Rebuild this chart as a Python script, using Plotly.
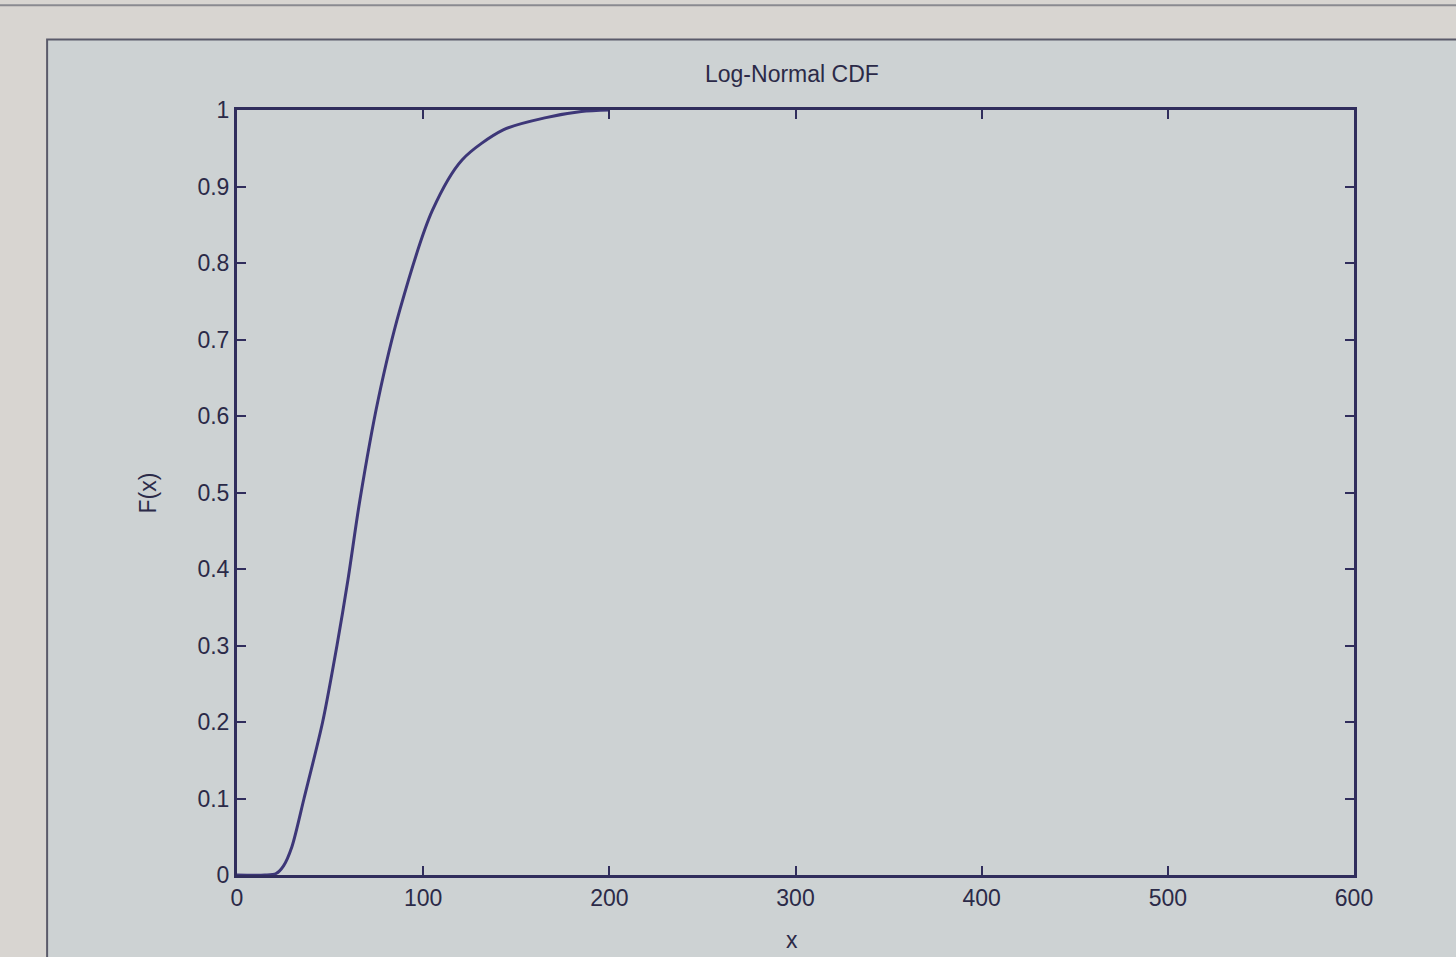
import plotly.graph_objects as go

x_vals = [0, 15, 21, 25, 29.5, 36, 46, 53.7, 59.6, 66, 75.8, 87.5, 105, 121, 143, 166, 185, 200]
f_vals = [0, 0, 0.002, 0.012, 0.037, 0.1, 0.2, 0.3, 0.386, 0.49, 0.621, 0.739, 0.869, 0.935, 0.974, 0.99, 0.998, 1.0]
x_ticks = [0, 100, 200, 300, 400, 500, 600]
y_ticks = [0, 0.1, 0.2, 0.3, 0.4, 0.5, 0.6, 0.7, 0.8, 0.9, 1]
y_ticktext = ["0", "0.1", "0.2", "0.3", "0.4", "0.5", "0.6", "0.7", "0.8", "0.9", "1"]

ink = "#302d5c"
txt = "#2b2a48"
panel = "#cdd2d3"

fig = go.Figure()
fig.add_trace(go.Scatter(x=x_vals, y=f_vals, mode="lines",
                         line=dict(color="#3d3778", width=3, shape="spline", smoothing=0.8),
                         showlegend=False, hoverinfo="skip"))

axis_common = dict(showgrid=False, zeroline=False, showline=True, linecolor=ink, linewidth=3,
                   mirror="ticks", ticks="inside", ticklen=9, tickwidth=2, tickcolor=ink,
                   tickfont=dict(family="Liberation Sans, Arial", size=23, color=txt))

fig.update_layout(
    width=1456, height=957,
    margin=dict(l=237, r=102, t=110, b=82),
    paper_bgcolor="#d8d5d1",
    plot_bgcolor=panel,
    xaxis=dict(range=[0, 600], tickvals=x_ticks, **axis_common),
    yaxis=dict(range=[0, 1], tickvals=y_ticks, ticktext=y_ticktext, **axis_common),
    shapes=[
        dict(type="rect", xref="paper", yref="paper", x0=-0.17, x1=1.2, y0=-0.2, y1=1.092,
             fillcolor=panel, line=dict(color="#5a5a6a", width=2), layer="below"),
        dict(type="line", xref="paper", yref="paper", x0=-0.3, x1=1.2, y0=1.137, y1=1.137,
             line=dict(color="#8a8a90", width=2), layer="below"),
    ],
    annotations=[
        dict(text="Log-Normal CDF", xref="paper", yref="paper", x=0.497, y=1.047, showarrow=False,
             font=dict(family="Liberation Sans, Arial", size=23, color=txt), yanchor="middle"),
        dict(text="x", xref="paper", yref="paper", x=0.497, y=-0.085, showarrow=False,
             font=dict(family="Liberation Sans, Arial", size=23, color=txt), yanchor="middle"),
        dict(text="F(x)", xref="paper", yref="paper", x=-0.0797, y=0.5, showarrow=False, textangle=-90,
             font=dict(family="Liberation Sans, Arial", size=23, color=txt), xanchor="center", yanchor="middle"),
    ],
)

fig.write_html("out.html")
